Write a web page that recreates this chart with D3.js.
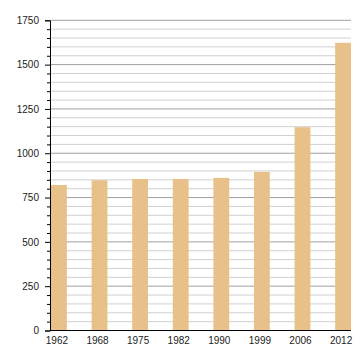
<!DOCTYPE html>
<html><head><meta charset="utf-8">
<script src="https://cdn.jsdelivr.net/npm/d3@7"></script>
<style>body{margin:0;background:#fff}svg{display:block}</style>
</head><body>
<script>
const years = ["1962","1968","1975","1982","1990","1999","2006","2012"];
const population = [821, 848, 855, 855, 861, 895, 1147, 1623];
const yMajorTicks = [0, 250, 500, 750, 1000, 1250, 1500, 1750];

(function () {
const W = 360, H = 360;
const mLeft = 50, mRight = 351, mTop = 20.3, mBottom = 330.5;
const svg = d3.select("body").append("svg").attr("width", W).attr("height", H);

const y = d3.scaleLinear().domain([0, 1750]).range([mBottom, mTop]);
const x = d3.scaleBand().domain(years).range([mLeft + 1, mRight]).paddingInner(0.61).paddingOuter(0);

const minor = d3.range(0, 1751, 50);
svg.append("g").selectAll("line").data(minor).join("line")
  .attr("x1", mLeft).attr("x2", mRight)
  .attr("y1", d => y(d)).attr("y2", d => y(d))
  .attr("stroke", d => d % 250 === 0 ? "#a0a0a0" : "#d0d0d0")
  .attr("stroke-width", 1);

svg.append("g").selectAll("rect").data(years).join("rect")
  .attr("x", d => x(d)).attr("width", x.bandwidth())
  .attr("y", (d, i) => y(population[i]))
  .attr("height", (d, i) => y(0) - y(population[i]))
  .attr("fill", "#e8c08a");

const yAxis = d3.axisLeft(y).tickValues(yMajorTicks).tickFormat(d3.format("d")).tickSize(5).tickPadding(6);
const gy = svg.append("g").attr("transform", `translate(${mLeft},0)`).call(yAxis);
gy.select(".domain").attr("stroke", "#000");
gy.selectAll(".tick line").attr("stroke", "#000");
gy.selectAll("text").attr("font-family", "Liberation Sans, Arial, sans-serif").attr("font-size", 10).attr("fill", "#222");

const yMinor = d3.axisLeft(y).tickValues(minor.filter(d => d % 250 !== 0)).tickSize(3).tickFormat("");
const gym = svg.append("g").attr("transform", `translate(${mLeft},0)`).call(yMinor);
gym.select(".domain").remove();
gym.selectAll(".tick line").attr("stroke", "#000");

const xAxis = d3.axisBottom(x).tickSize(0).tickPadding(6);
const gx = svg.append("g").attr("transform", `translate(0,${mBottom})`).call(xAxis);
gx.select(".domain").attr("stroke", "#000").attr("d", `M${mLeft},0H${mRight}`);
gx.selectAll("text").attr("font-family", "Liberation Sans, Arial, sans-serif").attr("font-size", 10).attr("fill", "#222").attr("dx", -2);
})();
</script>
</body></html>
